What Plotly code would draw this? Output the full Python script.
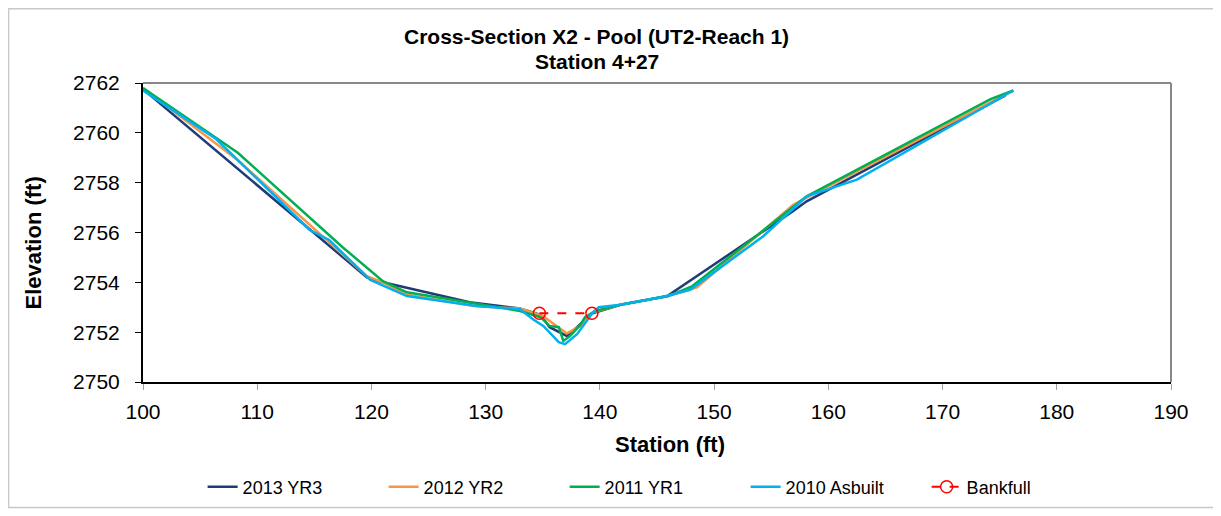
import plotly.graph_objects as go

# Cross-section survey data (station ft, elevation ft)
yr3_station = [100, 119.6, 121.0, 128.6, 133.0, 134.8, 135.6, 137.1, 138.0, 139.3, 141.8, 145.9, 156.9, 158.1, 175.5]
yr3_elev = [2761.75, 2754.2, 2754.0, 2753.2, 2752.95, 2752.7, 2752.2, 2751.85, 2752.2, 2752.75, 2753.1, 2753.45, 2756.85, 2757.25, 2761.5]

yr2_station = [100, 108.3, 119.6, 121.0, 123.1, 129.0, 133.0, 135.0, 137.1, 138.3, 139.4, 141.8, 146.0, 148.5, 156.9, 158.1, 174.5, 176.2]
yr2_elev = [2761.8, 2758.9, 2754.25, 2754.0, 2753.5, 2753.05, 2752.95, 2752.65, 2751.95, 2752.25, 2752.8, 2753.1, 2753.45, 2753.8, 2757.1, 2757.4, 2761.3, 2761.7]

yr1_station = [100, 108.3, 117.5, 121.0, 123.1, 133.0, 134.8, 135.6, 136.4, 136.8, 137.4, 138.3, 138.7, 139.6, 141.8, 146.0, 148.1, 158.1, 174.2, 176.2]
yr1_elev = [2761.8, 2759.2, 2755.4, 2754.05, 2753.6, 2752.85, 2752.6, 2752.25, 2752.2, 2751.65, 2751.85, 2752.3, 2752.6, 2752.85, 2753.1, 2753.45, 2753.85, 2757.45, 2761.35, 2761.7]

asbuilt_station = [100, 106.4, 114.6, 116.3, 119.9, 123.1, 129.2, 133.0, 134.2, 135.05, 136.4, 136.95, 138.0, 139.4, 139.9, 141.8, 145.4, 147.9, 154.3, 158.1, 162.5, 176.2]
asbuilt_elev = [2761.7, 2759.75, 2756.1, 2755.7, 2754.1, 2753.45, 2753.05, 2752.92, 2752.5, 2752.25, 2751.6, 2751.52, 2751.92, 2752.8, 2753.0, 2753.1, 2753.4, 2753.7, 2755.85, 2757.45, 2758.12, 2761.7]

bankfull_station = [134.7, 139.3]
bankfull_elev = [2752.76, 2752.76]

FONT = "Arial, Liberation Sans, sans-serif"

series = [
    ("2013 YR3", yr3_station, yr3_elev, "#1F3C78"),
    ("2012 YR2", yr2_station, yr2_elev, "#F79646"),
    ("2011 YR1", yr1_station, yr1_elev, "#00B050"),
    ("2010 Asbuilt", asbuilt_station, asbuilt_elev, "#00B0F0"),
]

fig = go.Figure()
for name, xs, ys, color in series:
    fig.add_trace(go.Scatter(x=xs, y=ys, mode="lines", name=name,
                             line=dict(color=color, width=2.5)))

fig.add_trace(go.Scatter(x=bankfull_station, y=bankfull_elev, mode="lines+markers",
                         name="Bankfull",
                         line=dict(color="#FF0000", width=2, dash="dash"),
                         marker=dict(symbol="circle-open", size=12, color="#FF0000",
                                     line=dict(width=1.5))))

# page has an 8px body margin, so the figure is 8px smaller than the window
fig.update_layout(
    width=1213, height=508,
    margin=dict(l=135, r=50, t=75, b=133),
    paper_bgcolor="white", plot_bgcolor="white",
    font=dict(family=FONT, color="black"),
    showlegend=True,
    legend=dict(orientation="h", x=0.058, xanchor="left", y=-0.347, yanchor="middle",
                font=dict(size=18, family=FONT), entrywidth=136, traceorder="normal"),
)

# titles as annotations so they sit where the original puts them
fig.add_annotation(text="<b>Cross-Section X2 - Pool (UT2-Reach 1)</b>", xref="paper", yref="paper",
                   x=0.4416, y=1.1567, showarrow=False, xanchor="center", yanchor="middle",
                   font=dict(size=21, family=FONT))
fig.add_annotation(text="<b>Station 4+27</b>", xref="paper", yref="paper",
                   x=0.4416, y=1.0733, showarrow=False, xanchor="center", yanchor="middle",
                   font=dict(size=21, family=FONT))
fig.add_annotation(text="<b>Station (ft)</b>", xref="paper", yref="paper",
                   x=0.513, y=-0.21, showarrow=False, xanchor="center", yanchor="middle",
                   font=dict(size=22, family=FONT))
fig.add_annotation(text="<b>Elevation (ft)</b>", xref="paper", yref="paper", textangle=-90,
                   x=-0.107, y=0.4633, showarrow=False, xanchor="center", yanchor="middle",
                   font=dict(size=22, family=FONT))

fig.update_xaxes(range=[100, 190], dtick=10, showgrid=False, zeroline=False,
                 showline=True, linecolor="black", linewidth=2,
                 ticks="outside", ticklen=6, tickcolor="#A0A0A0",
                 tickfont=dict(size=21), ticklabelstandoff=4)
fig.update_yaxes(range=[2750, 2762], dtick=2, showgrid=False, zeroline=False,
                 showline=True, linecolor="black", linewidth=2,
                 ticks="outside", ticklen=6, tickcolor="black",
                 tickfont=dict(size=21), ticklabelstandoff=11)

# gray top/right plot border
fig.add_shape(type="line", xref="x domain", yref="y domain", x0=0, x1=1, y0=1, y1=1,
              line=dict(color="#888888", width=2))
fig.add_shape(type="line", xref="x domain", yref="y domain", x0=1, x1=1, y0=0, y1=1,
              line=dict(color="#888888", width=2))
# outer chart frame
fig.add_shape(type="rect", xref="paper", yref="paper",
              x0=-0.1308, x1=1.0418, y0=-0.42, y1=1.2483,
              line=dict(color="#C8C8C8", width=1.5))

fig.write_html("out.html")
